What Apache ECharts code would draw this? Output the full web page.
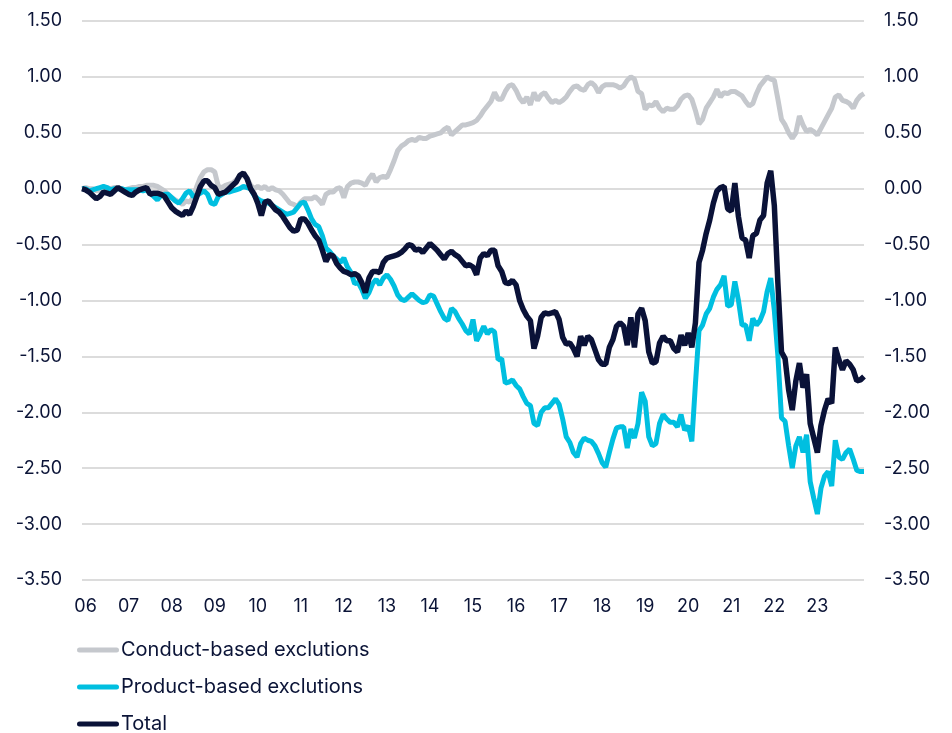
<!DOCTYPE html>
<html>
<head>
<meta charset="utf-8">
<script src="https://cdn.jsdelivr.net/npm/echarts@6/dist/echarts.min.js"></script>
<style>
html,body{margin:0;padding:0;background:#fff}
#chart{width:952px;height:733px}
</style>
</head>
<body>
<div id="chart"></div>
<script>
// monthly series, first point Dec 2005
var startYear = 2005, startMonth = 12;
var yearLabels = ['06','07','08','09','10','11','12','13','14','15','16','17','18','19','20','21','22','23'];
var seriesNames = ['Conduct-based exclutions', 'Product-based exclutions', 'Total'];

var conduct = [
  0.00, 0.01, 0.00, 0.00, -0.02, -0.01, 0.01, 0.01, 0.00, 0.01, 0.01, 0.00,
  -0.01, 0.00, 0.01, 0.01, 0.02, 0.02, 0.03, 0.03, 0.03, 0.02, 0.00, -0.02,
  -0.05, -0.08, -0.10, -0.12, -0.14, -0.11, -0.12, -0.08, 0.02, 0.10, 0.15, 0.17,
  0.17, 0.15, 0.02, 0.01, 0.03, 0.04, 0.05, 0.08, 0.11, 0.12, 0.10, 0.03,
  0.00, 0.02, 0.00, 0.02, -0.01, 0.01, -0.01, -0.02, -0.05, -0.09, -0.13, -0.14,
  -0.16, -0.12, -0.09, -0.09, -0.09, -0.07, -0.10, -0.14, -0.05, -0.03, -0.03, 0.00,
  0.01, -0.08, 0.02, 0.05, 0.06, 0.06, 0.05, 0.03, 0.09, 0.13, 0.06, 0.10,
  0.11, 0.10, 0.17, 0.25, 0.34, 0.38, 0.40, 0.43, 0.44, 0.43, 0.46, 0.45,
  0.45, 0.47, 0.48, 0.49, 0.50, 0.53, 0.55, 0.48, 0.51, 0.54, 0.57, 0.57,
  0.58, 0.59, 0.61, 0.65, 0.70, 0.74, 0.78, 0.86, 0.80, 0.80, 0.87, 0.92,
  0.93, 0.88, 0.81, 0.77, 0.82, 0.75, 0.86, 0.79, 0.84, 0.86, 0.81, 0.77,
  0.79, 0.77, 0.79, 0.82, 0.87, 0.91, 0.92, 0.89, 0.88, 0.93, 0.95, 0.92,
  0.86, 0.91, 0.93, 0.93, 0.93, 0.92, 0.90, 0.92, 0.97, 1.00, 0.98, 0.87,
  0.85, 0.71, 0.75, 0.74, 0.78, 0.72, 0.69, 0.72, 0.71, 0.71, 0.74, 0.80,
  0.83, 0.84, 0.80, 0.70, 0.58, 0.62, 0.72, 0.77, 0.82, 0.89, 0.82, 0.86,
  0.85, 0.87, 0.87, 0.85, 0.83, 0.78, 0.74, 0.76, 0.85, 0.92, 0.96, 1.00,
  0.98, 0.97, 0.80, 0.62, 0.57, 0.50, 0.45, 0.50, 0.65, 0.57, 0.51, 0.53,
  0.51, 0.48, 0.54, 0.60, 0.66, 0.72, 0.82, 0.84, 0.79, 0.78, 0.76, 0.72,
  0.79, 0.83, 0.85
];

var product = [
  0.00, 0.00, -0.02, -0.01, 0.00, 0.01, 0.02, 0.01, -0.01, 0.00, 0.00, 0.00,
  -0.01, -0.01, -0.01, -0.01, -0.01, -0.02, -0.01, -0.04, -0.07, -0.10, -0.06, -0.05,
  -0.05, -0.08, -0.11, -0.13, -0.09, -0.04, -0.02, -0.07, -0.06, -0.04, -0.02, -0.05,
  -0.13, -0.14, -0.07, -0.05, -0.03, -0.03, -0.02, -0.01, 0.00, 0.02, 0.01, 0.00,
  -0.06, -0.09, -0.11, -0.12, -0.13, -0.15, -0.17, -0.19, -0.21, -0.23, -0.22, -0.21,
  -0.17, -0.13, -0.12, -0.19, -0.27, -0.32, -0.34, -0.42, -0.53, -0.56, -0.60, -0.63,
  -0.66, -0.62, -0.70, -0.75, -0.85, -0.84, -0.90, -0.98, -0.93, -0.85, -0.81, -0.86,
  -0.80, -0.77, -0.81, -0.87, -0.95, -0.99, -1.00, -0.97, -0.94, -0.97, -1.00, -1.02,
  -1.01, -0.95, -0.96, -1.03, -1.10, -1.16, -1.18, -1.07, -1.10, -1.16, -1.21, -1.27,
  -1.30, -1.17, -1.36, -1.30, -1.23, -1.30, -1.26, -1.28, -1.53, -1.52, -1.74, -1.73,
  -1.71, -1.76, -1.79, -1.86, -1.92, -1.94, -2.10, -2.12, -2.00, -1.96, -1.96, -1.92,
  -1.88, -1.93, -2.06, -2.22, -2.27, -2.36, -2.40, -2.28, -2.23, -2.25, -2.26, -2.30,
  -2.37, -2.45, -2.49, -2.36, -2.24, -2.14, -2.13, -2.13, -2.32, -2.15, -2.23, -2.10,
  -1.82, -1.90, -2.22, -2.30, -2.28, -2.10, -2.02, -2.06, -2.09, -2.09, -2.13, -2.02,
  -2.16, -2.12, -2.26, -1.75, -1.27, -1.22, -1.12, -1.07, -0.97, -0.90, -0.86, -0.78,
  -1.05, -1.04, -0.83, -1.00, -1.22, -1.22, -1.36, -1.16, -1.22, -1.18, -1.10, -0.92,
  -0.80, -1.09, -1.50, -2.05, -2.08, -2.30, -2.50, -2.30, -2.22, -2.36, -2.20, -2.62,
  -2.77, -2.91, -2.68, -2.57, -2.53, -2.66, -2.25, -2.40, -2.42, -2.36, -2.33, -2.42,
  -2.52, -2.53, -2.53
];

var total = [
  0.00, -0.01, -0.03, -0.06, -0.09, -0.07, -0.03, -0.04, -0.05, -0.02, 0.01, -0.01,
  -0.03, -0.05, -0.06, -0.03, -0.01, 0.00, 0.01, -0.05, -0.04, -0.04, -0.05, -0.07,
  -0.12, -0.17, -0.20, -0.22, -0.24, -0.20, -0.23, -0.16, -0.07, 0.02, 0.07, 0.07,
  0.03, 0.01, -0.05, -0.04, -0.03, 0.00, 0.03, 0.06, 0.12, 0.14, 0.09, 0.00,
  -0.05, -0.13, -0.24, -0.12, -0.11, -0.15, -0.19, -0.21, -0.25, -0.30, -0.35, -0.38,
  -0.37, -0.27, -0.27, -0.31, -0.37, -0.42, -0.46, -0.55, -0.65, -0.59, -0.60, -0.67,
  -0.71, -0.74, -0.75, -0.77, -0.76, -0.78, -0.84, -0.93, -0.80, -0.74, -0.74, -0.75,
  -0.66, -0.62, -0.61, -0.60, -0.59, -0.57, -0.54, -0.50, -0.51, -0.55, -0.54, -0.57,
  -0.53, -0.49, -0.52, -0.55, -0.59, -0.63, -0.58, -0.56, -0.59, -0.61, -0.65, -0.69,
  -0.68, -0.70, -0.77, -0.62, -0.58, -0.60, -0.55, -0.55, -0.69, -0.74, -0.84, -0.85,
  -0.82, -0.86, -1.00, -1.08, -1.14, -1.18, -1.43, -1.32, -1.15, -1.11, -1.12, -1.11,
  -1.10, -1.17, -1.33, -1.39, -1.38, -1.43, -1.50, -1.32, -1.40, -1.32, -1.35, -1.44,
  -1.53, -1.57, -1.57, -1.42, -1.35, -1.23, -1.20, -1.23, -1.40, -1.15, -1.42, -1.12,
  -1.07, -1.18, -1.46, -1.56, -1.55, -1.38, -1.32, -1.36, -1.36, -1.43, -1.46, -1.31,
  -1.40, -1.29, -1.42, -1.20, -0.66, -0.55, -0.40, -0.28, -0.13, -0.02, 0.01, 0.02,
  -0.18, -0.20, 0.05, -0.25, -0.44, -0.46, -0.62, -0.42, -0.40, -0.28, -0.24, 0.05,
  0.16, -0.15, -0.85, -1.46, -1.52, -1.80, -1.98, -1.72, -1.56, -1.78, -1.66, -2.10,
  -2.23, -2.36, -2.12, -1.98, -1.88, -1.92, -1.42, -1.53, -1.62, -1.54, -1.57, -1.62,
  -1.72, -1.71, -1.68
];

var months = [];
for (var i = 0; i < total.length; i++) {
  var mm = (startMonth - 1 + i) % 12 + 1;
  var yy = startYear + Math.floor((startMonth - 1 + i) / 12);
  months.push(yy + '-' + (mm < 10 ? '0' + mm : mm));
}

var textColor = '#0b1437';
var fontName = 'Inter, "Noto Sans", sans-serif';
// rounded bar used as legend marker
var legendBar = 'path://M2.5,0H39.5A2.5,2.5,0,0,1,39.5,5H2.5A2.5,2.5,0,0,1,2.5,0Z';

var chart = echarts.init(document.getElementById('chart'));

function yAxis(pos) {
  return {
    type: 'value',
    position: pos,
    min: -3.5,
    max: 1.5,
    interval: 0.5,
    axisLine: {show: false},
    axisTick: {show: false},
    axisLabel: {
      color: textColor,
      fontSize: 18,
      fontFamily: fontName,
      margin: 20,
      formatter: function (v) { return v.toFixed(2); }
    },
    splitLine: {show: pos === 'left', lineStyle: {color: '#dcdcdc', width: 2}}
  };
}

var option = {
  animation: false,
  backgroundColor: '#fff',
  grid: {left: 82, right: 88, top: 21, bottom: 153, containLabel: false},
  legend: {
    orient: 'vertical',
    left: 77,
    top: 640,
    padding: 0,
    height: 120,
    itemWidth: 42,
    itemHeight: 5,
    itemGap: 17,
    icon: legendBar,
    textStyle: {color: textColor, fontSize: 20, lineHeight: 20, fontFamily: fontName, padding: [0, 0, 0, -3]},
    data: seriesNames
  },
  xAxis: {
    type: 'category',
    boundaryGap: false,
    data: months,
    axisLine: {show: false},
    axisTick: {show: false},
    axisLabel: {
      color: textColor,
      fontSize: 18,
      fontFamily: fontName,
      margin: 18,
      interval: function (idx, val) { return val.slice(5) === '01'; },
      formatter: function (val) { return yearLabels[parseInt(val.slice(0, 4), 10) - 2006]; }
    }
  },
  yAxis: [yAxis('left'), yAxis('right')],
  series: [
    {name: seriesNames[0], type: 'line', data: conduct, symbol: 'none', color: '#c5c8cd',
      lineStyle: {width: 5, color: '#c5c8cd'}},
    {name: seriesNames[1], type: 'line', data: product, symbol: 'none', color: '#00bfe0',
      lineStyle: {width: 5, color: '#00bfe0'}},
    {name: seriesNames[2], type: 'line', data: total, symbol: 'none', color: '#0a1238',
      lineStyle: {width: 5.5, color: '#0a1238'}}
  ]
};

chart.setOption(option);
</script>
</body>
</html>
